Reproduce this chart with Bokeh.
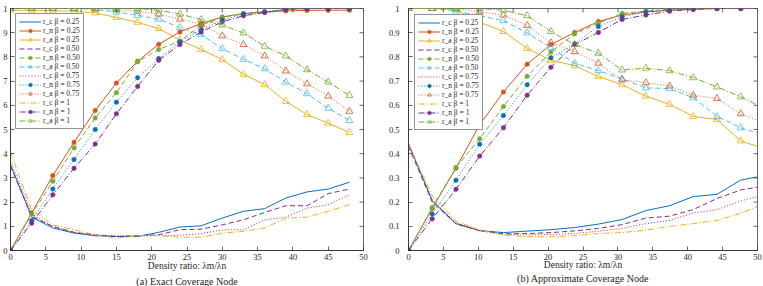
import math
from bokeh.plotting import figure
from bokeh.layouts import row
from bokeh.models import Range1d, FixedTicker, Title, PrintfTickFormatter
from bokeh.embed import file_html
from bokeh.resources import INLINE

# ---------------- data ----------------
XA = [0, 3, 6, 9, 12, 15, 18, 21, 24, 27, 30, 33, 36, 39, 42, 45, 48]
XB = [0, 3.4, 6.8, 10.2, 13.6, 17.0, 20.4, 23.8, 27.2, 30.6, 34.0, 37.4, 40.8, 44.2, 47.6, 50.0]

# (a) Exact Coverage Node
rc25_a = [0.355, 0.138, 0.093, 0.072, 0.061, 0.058, 0.058, 0.075, 0.097, 0.102, 0.134, 0.162, 0.173, 0.217, 0.242, 0.254, 0.282]
rn25_a = [0.0, 0.155, 0.31, 0.447, 0.579, 0.692, 0.782, 0.852, 0.903, 0.938, 0.965, 0.979, 0.986, 0.99, 0.992, 0.993, 0.993]
ra25_a = [0.993, 0.993, 0.99, 0.989, 0.982, 0.963, 0.943, 0.917, 0.869, 0.831, 0.789, 0.728, 0.686, 0.616, 0.562, 0.526, 0.488]
rc50_a = [0.348, 0.141, 0.099, 0.075, 0.064, 0.058, 0.061, 0.065, 0.086, 0.088, 0.106, 0.127, 0.157, 0.185, 0.185, 0.235, 0.254]
rn50_a = [0.0, 0.15, 0.286, 0.424, 0.548, 0.652, 0.78, 0.831, 0.865, 0.931, 0.963, 0.979, 0.986, 0.997, 1.0, 1.0, 1.0]
ra50_a = [1.0, 1.0, 1.0, 1.0, 0.996, 0.986, 0.972, 0.956, 0.921, 0.892, 0.834, 0.79, 0.751, 0.696, 0.648, 0.588, 0.537]
rc75_a = [0.37, 0.15, 0.1, 0.075, 0.065, 0.06, 0.06, 0.062, 0.063, 0.07, 0.085, 0.086, 0.127, 0.138, 0.175, 0.189, 0.23]
rn75_a = [0.0, 0.124, 0.254, 0.376, 0.5, 0.613, 0.714, 0.793, 0.862, 0.913, 0.952, 0.977, 0.986, 0.996, 0.999, 1.0, 1.0]
ra75_a = [1.0, 1.0, 1.0, 1.0, 1.0, 0.996, 0.989, 0.977, 0.956, 0.935, 0.887, 0.851, 0.804, 0.742, 0.689, 0.638, 0.575]
rc100_a = [0.406, 0.168, 0.106, 0.086, 0.065, 0.051, 0.061, 0.061, 0.055, 0.055, 0.072, 0.079, 0.093, 0.134, 0.138, 0.162, 0.189]
rn100_a = [0.0, 0.113, 0.23, 0.34, 0.44, 0.565, 0.678, 0.786, 0.851, 0.903, 0.945, 0.97, 0.983, 0.996, 1.0, 1.0, 1.0]
ra100_a = [1.0, 1.0, 1.0, 1.0, 1.0, 1.0, 1.0, 0.993, 0.977, 0.954, 0.932, 0.899, 0.844, 0.804, 0.747, 0.696, 0.641]

# (b) Approximate Coverage Node
rc25_b = [0.442, 0.205, 0.111, 0.082, 0.074, 0.08, 0.086, 0.095, 0.109, 0.128, 0.165, 0.185, 0.223, 0.232, 0.291, 0.304]
rn25_b = [0.0, 0.174, 0.34, 0.52, 0.655, 0.77, 0.851, 0.901, 0.946, 0.973, 0.986, 0.993, 0.997, 1.0, 1.0, 1.0]
ra25_b = [1.0, 1.0, 0.996, 0.943, 0.905, 0.835, 0.786, 0.764, 0.719, 0.685, 0.638, 0.604, 0.554, 0.541, 0.453, 0.43]
rc50_b = [0.43, 0.2, 0.11, 0.082, 0.069, 0.07, 0.074, 0.081, 0.091, 0.107, 0.134, 0.142, 0.169, 0.215, 0.25, 0.262]
rn50_b = [0.0, 0.178, 0.343, 0.462, 0.595, 0.72, 0.82, 0.895, 0.939, 0.98, 0.989, 0.997, 1.0, 1.0, 1.0, 1.0]
ra50_b = [1.0, 1.0, 0.99, 0.97, 0.95, 0.899, 0.838, 0.774, 0.743, 0.709, 0.672, 0.669, 0.631, 0.554, 0.507, 0.486]
rc75_b = [0.44, 0.21, 0.115, 0.082, 0.067, 0.064, 0.066, 0.07, 0.08, 0.091, 0.111, 0.124, 0.155, 0.169, 0.205, 0.223]
rn75_b = [0.0, 0.151, 0.29, 0.439, 0.558, 0.685, 0.797, 0.854, 0.926, 0.966, 0.986, 0.993, 1.0, 1.0, 1.0, 1.0]
ra75_b = [1.0, 1.0, 1.0, 0.986, 0.973, 0.93, 0.858, 0.822, 0.774, 0.705, 0.693, 0.68, 0.642, 0.628, 0.565, 0.538]
rc100_b = [0.44, 0.226, 0.122, 0.084, 0.064, 0.057, 0.057, 0.061, 0.07, 0.074, 0.084, 0.1, 0.111, 0.124, 0.154, 0.182]
rn100_b = [0.0, 0.131, 0.253, 0.39, 0.507, 0.642, 0.757, 0.851, 0.901, 0.955, 0.973, 0.989, 0.996, 1.0, 1.0, 1.0]
ra100_b = [1.0, 1.0, 1.0, 1.0, 0.993, 0.97, 0.905, 0.851, 0.815, 0.746, 0.753, 0.743, 0.714, 0.676, 0.635, 0.601]

X_TICKS = [0, 5, 10, 15, 20, 25, 30, 35, 40, 45, 50]
Y_TICKS = [0, 0.1, 0.2, 0.3, 0.4, 0.5, 0.6, 0.7, 0.8, 0.9, 1]
# left panel's y labels are cut by the page edge: only last digit visible
Y_LABELS_CUT = {0: "0", 0.1: "1", 0.2: "2", 0.3: "3", 0.4: "4", 0.5: "5",
                0.6: "6", 0.7: "7", 0.8: "8", 0.9: "9", 1: "1"}
X_LABEL = "Density ratio: λm/λn"
CAPTIONS = ["(a) Exact Coverage Node", "(b) Approximate Coverage Node"]

# ---------------- style ----------------
FONT = "Liberation Serif"
AX = "#262626"
C_BLUE, C_ORANGE, C_YELLOW = "#0072BD", "#D95319", "#EDB120"
C_PURPLE, C_GREEN, C_CYAN, C_MAROON = "#7E2F8E", "#77AC30", "#4DBEEE", "#A2142F"
DASH = {"0.25": "solid", "0.50": "5 3", "0.75": "1 2", "1": "6 2 1 2"}


def series(rc25, rn25, ra25, rc50, rn50, ra50, rc75, rn75, ra75, rc100, rn100, ra100):
    return [
        ("r_c", "0.25", rc25, C_BLUE, None), ("r_n", "0.25", rn25, C_ORANGE, "circle"),
        ("r_a", "0.25", ra25, C_YELLOW, "triangle"),
        ("r_c", "0.50", rc50, C_PURPLE, None), ("r_n", "0.50", rn50, C_GREEN, "circle"),
        ("r_a", "0.50", ra50, C_CYAN, "triangle"),
        ("r_c", "0.75", rc75, C_MAROON, None), ("r_n", "0.75", rn75, C_BLUE, "circle"),
        ("r_a", "0.75", ra75, C_ORANGE, "triangle"),
        ("r_c", "1", rc100, C_YELLOW, None), ("r_n", "1", rn100, C_PURPLE, "circle"),
        ("r_a", "1", ra100, C_GREEN, "triangle"),
    ]


def make_panel(xs, ser, n_mark, width, border_left, border_right, border_bottom,
               cut_labels, tick_standoff, label_standoff, title_standoff, caption, leg_margin):
    p = figure(width=width, height=286, output_backend="svg", toolbar_location=None,
               x_range=Range1d(0, 50), y_range=Range1d(0, 1),
               min_border_left=border_left, min_border_right=border_right,
               min_border_top=8, min_border_bottom=border_bottom)
    p.background_fill_color = "white"
    p.border_fill_color = "white"
    p.outline_line_color = AX
    p.outline_line_width = 0.7
    p.xgrid.visible = False
    p.ygrid.visible = False

    for (name, beta, ys, color, marker) in ser:
        lbl = f"{name} β = {beta}"
        lw = 0.9 if beta == "0.75" else 1.0
        p.line(xs, ys, line_color=color, line_width=lw, line_dash=DASH[beta], legend_label=lbl)
        if marker == "circle":
            p.scatter(xs[:n_mark], ys[:n_mark], marker="circle", size=4.5, fill_color=color,
                      line_color=color, line_width=0.5, legend_label=lbl)
        elif marker == "triangle":
            p.scatter(xs[:n_mark], ys[:n_mark], marker="triangle", size=7, fill_alpha=0,
                      line_color=color, line_width=0.8, legend_label=lbl)

    # inward tick marks on the top and right edges of the box (clipped to frame)
    p.scatter(X_TICKS, [1] * len(X_TICKS), marker="dash", size=8, angle=math.pi / 2,
              line_color=AX, line_width=0.7)
    p.scatter([50] * len(Y_TICKS), Y_TICKS, marker="dash", size=8,
              line_color=AX, line_width=0.7)

    for ax in (p.xaxis[0], p.yaxis[0]):
        ax.axis_line_color = AX
        ax.axis_line_width = 0.7
        ax.major_tick_line_color = AX
        ax.major_tick_line_width = 0.7
        ax.major_tick_in = 4
        ax.major_tick_out = 0
        ax.minor_tick_line_color = None
        ax.major_label_text_font = FONT
        ax.major_label_text_font_size = "8.5px"
        ax.major_label_text_color = AX
    p.xaxis.ticker = FixedTicker(ticks=X_TICKS)
    p.yaxis.ticker = FixedTicker(ticks=Y_TICKS)
    p.yaxis.formatter = PrintfTickFormatter(format="%g")
    if cut_labels:
        p.yaxis.major_label_overrides = Y_LABELS_CUT
        p.yaxis.major_label_standoff = 3
    else:
        p.yaxis.major_label_standoff = 9
    p.xaxis.major_label_standoff = tick_standoff
    p.xaxis.axis_label = X_LABEL
    p.xaxis.axis_label_text_font = FONT
    p.xaxis.axis_label_text_font_style = "normal"
    p.xaxis.axis_label_text_font_size = "9.5px"
    p.xaxis.axis_label_text_color = AX
    p.xaxis.axis_label_standoff = label_standoff

    leg = p.legend[0]
    leg.location = "top_left"
    leg.margin = leg_margin
    leg.padding = 3
    leg.spacing = 0
    leg.label_height = 9
    leg.glyph_height = 9
    leg.glyph_width = 22
    leg.label_standoff = 2
    leg.label_text_font = FONT
    leg.label_text_font_size = "7.5px"
    leg.label_text_color = AX
    leg.border_line_color = AX
    leg.border_line_width = 0.7
    leg.background_fill_alpha = 1

    p.add_layout(Title(text=caption, align="center", text_font=FONT, text_font_size="10px",
                       text_font_style="normal", text_color="#222222",
                       standoff=title_standoff, offset=0),
                 "below")
    return p


ser_a = series(rc25_a, rn25_a, ra25_a, rc50_a, rn50_a, ra50_a,
               rc75_a, rn75_a, ra75_a, rc100_a, rn100_a, ra100_a)
ser_b = series(rc25_b, rn25_b, ra25_b, rc50_b, rn50_b, ra50_b,
               rc75_b, rn75_b, ra75_b, rc100_b, rn100_b, ra100_b)

p1 = make_panel(XA, ser_a, len(XA), 383, 9, 20, 36, True, 3, -2, 0, CAPTIONS[0], 5)
p2 = make_panel(XB, ser_b, len(XB) - 1, 380, 25, 6, 31, False, 3, -3, -4, CAPTIONS[1], 6)

layout = row(p1, p2)
open("out.html", "w").write(file_html(layout, INLINE))
